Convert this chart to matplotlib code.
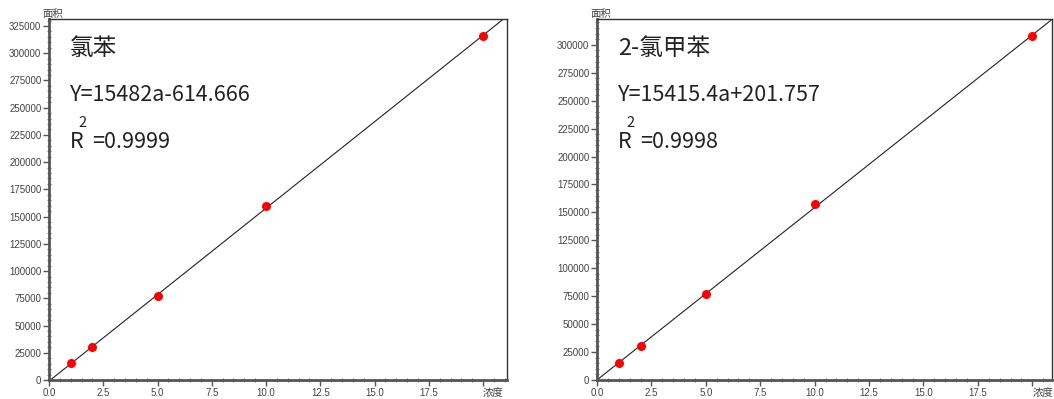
import numpy as np
import matplotlib
matplotlib.use('Agg')
import matplotlib.pyplot as plt
from matplotlib.ticker import MultipleLocator

plt.rcParams['font.family'] = ['Noto Sans CJK SC', 'DejaVu Sans']

# ------------------------- DATA -------------------------
conc = [1, 2, 5, 10, 20]
area_cb = [15300, 30000, 77500, 159600, 315800]      # 氯苯
area_ct = [15000, 30200, 76800, 157300, 307500]      # 2-氯甲苯

names = ['氯苯', '2-氯甲苯']
equations = ['Y=15482a-614.666', 'Y=15415.4a+201.757']
r2_text = ['=0.9999', '=0.9998']
y_max = [331400, 323100]
x_max = [21.1, 20.9]
y_tick_max = [325000, 300000]
x_ticks = [0, 2.5, 5, 7.5, 10, 12.5, 15, 17.5, 20]
x_label = '浓度'
y_label = '面积'

# ------------------------- PLOT -------------------------
fig = plt.figure(figsize=(10.54, 3.99), dpi=100)
ax_pos = [[0.0465, 0.0476, 0.4345, 0.9048],
          [0.5664, 0.0476, 0.4316, 0.9048]]

tick_font = 'Liberation Sans'
grey = '#444444'
txt = '#222222'

for i, area in enumerate([area_cb, area_ct]):
    ax = fig.add_axes(ax_pos[i])

    # fitted line
    k, b = np.polyfit(conc, area, 1)
    xs = np.array([0, x_max[i]])
    ax.plot(xs, k * xs + b, color='#222222', lw=0.8, zorder=2)

    ax.plot(conc, area, 'o', color='#ff0000', ms=6.5, mec='none', zorder=3)

    ax.set_xlim(0, x_max[i])
    ax.set_ylim(0, y_max[i])

    ax.set_xticks(x_ticks)
    labels = ['%.1f' % v for v in x_ticks[:-1]] + [x_label]
    ax.set_xticklabels(labels)
    ax.set_yticks(np.arange(0, y_tick_max[i] + 1, 25000))
    ax.yaxis.set_minor_locator(MultipleLocator(5000))
    ax.xaxis.set_minor_locator(MultipleLocator(0.5))

    for lab in ax.get_xticklabels() + ax.get_yticklabels():
        lab.set_fontfamily(tick_font)
        lab.set_fontsize(7)
        lab.set_color(grey)
    last = ax.get_xticklabels()[-1]
    last.set_fontfamily(['Noto Sans CJK SC'])
    last.set_fontsize(7.5)
    last.set_horizontalalignment('left')

    ax.tick_params(which='major', direction='out', length=4, width=1,
                   color='#555555', pad=1.5)
    ax.tick_params(which='minor', direction='inout', length=3, width=0.8,
                   color='#777777')

    for side in ['left', 'bottom']:
        ax.spines[side].set_linewidth(2)
        ax.spines[side].set_color('#555555')
    for side in ['top', 'right']:
        ax.spines[side].set_linewidth(1)
        ax.spines[side].set_color('#333333')

    # axis title above y axis
    ax.annotate(y_label, xy=(0, 1), xycoords='axes fraction',
                xytext=(-5, 0), textcoords='offset points',
                ha='left', va='bottom', fontsize=7.5, color=grey)

    # annotations
    ax.annotate(names[i], xy=(0, 1), xycoords='axes fraction',
                xytext=(15, -13), textcoords='offset points',
                ha='left', va='top', fontsize=17, color=txt)
    ax.annotate(equations[i], xy=(0, 1), xycoords='axes fraction',
                xytext=(15, -47), textcoords='offset points',
                ha='left', va='top', fontsize=15.5, color=txt)
    ax.annotate('R', xy=(0, 1), xycoords='axes fraction',
                xytext=(15, -81), textcoords='offset points',
                ha='left', va='top', fontsize=15.5, color=txt)
    ax.annotate('2', xy=(0, 1), xycoords='axes fraction',
                xytext=(21.5, -70), textcoords='offset points',
                ha='left', va='top', fontsize=10.5, color=txt)
    ax.annotate(r2_text[i], xy=(0, 1), xycoords='axes fraction',
                xytext=(31, -81), textcoords='offset points',
                ha='left', va='top', fontsize=15.5, color=txt)

fig.savefig('out.png', dpi=100)
